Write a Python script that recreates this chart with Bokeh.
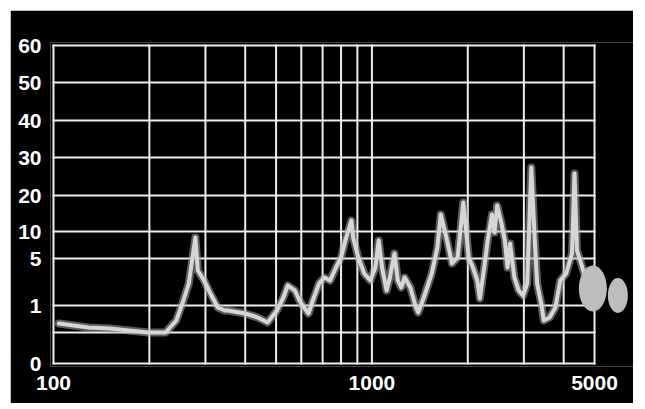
from bokeh.plotting import figure
from bokeh.models import Range1d, FixedTicker
from bokeh.embed import file_html
from bokeh.resources import INLINE

# Frequency graticule (Hz, log) and its printed labels
freq_ticks = [100, 200, 300, 400, 500, 600, 700, 800, 900, 1000, 2000, 3000, 4000, 5000]
freq_labels = {100: "100", 1000: "1000", 5000: "5000"}

# Vertical graticule: height of each ruled line (graticule units) and its label
level_ticks = [0, 31, 58, 105, 132, 168, 206, 243, 281, 318]
level_labels = ["0", "", "1", "5", "10", "20", "30", "40", "50", "60"]

# Spectrum trace (frequency in Hz, height in graticule units)
trace_freq = [104, 129, 150, 173, 198, 225, 243, 254, 266, 279,
              284, 297, 311, 328, 345, 353, 400, 438, 470, 503,
              527, 544, 573, 592, 612, 632, 652, 682, 709, 739,
              771, 800, 825, 862, 873, 906, 946, 988, 1025, 1050,
              1076, 1112, 1139, 1177, 1206, 1236, 1267, 1320, 1375, 1397,
              1455, 1541, 1605, 1645, 1713, 1784, 1858, 1936, 2013, 2076,
              2142, 2182, 2252, 2309, 2382, 2427, 2473, 2551, 2615, 2665,
              2715, 2801, 2890, 2982, 3073, 3166, 3243, 3302, 3402, 3464,
              3613, 3767, 3904, 4073, 4249, 4326, 4404, 4540, 4736, 4940]
trace_level = [40, 36, 35, 33, 31, 31, 43, 60, 80, 126,
               93, 83, 70, 56, 53, 53, 50, 46, 41, 53,
               66, 78, 73, 63, 56, 50, 63, 80, 86, 83,
               96, 106, 123, 143, 126, 106, 90, 83, 96, 123,
               96, 73, 86, 110, 83, 76, 86, 76, 56, 51,
               66, 90, 116, 149, 126, 100, 106, 161, 106, 96,
               83, 65, 96, 123, 149, 131, 158, 140, 123, 96,
               120, 86, 73, 68, 80, 196, 126, 80, 60, 43,
               46, 56, 83, 90, 110, 190, 113, 100, 80, 66]

# Overloaded spots past the end of the sweep
blob_freq = [4940, 5920]
blob_level = [75, 68]

p = figure(width=623, height=393, x_axis_type="log",
           x_range=Range1d(97.86, 6628), y_range=Range1d(-3, 321),
           output_backend="svg", toolbar_location=None,
           background_fill_color="black", border_fill_color="black",
           min_border_left=40, min_border_right=0,
           min_border_top=32, min_border_bottom=37,
           margin=(10, 0, 0, 10))

p.xgrid.visible = False
p.ygrid.visible = False
p.outline_line_color = None

# ruled graticule
nf = len(freq_ticks)
nl = len(level_ticks)
grid_col = "#eeeeee"
p.segment(x0=freq_ticks, y0=[level_ticks[0]] * nf, x1=freq_ticks, y1=[level_ticks[-1]] * nf,
          line_color=grid_col, line_width=2, line_cap="square")
p.segment(x0=[freq_ticks[0]] * nl, y0=level_ticks, x1=[freq_ticks[-1]] * nl, y1=level_ticks,
          line_color=grid_col, line_width=2, line_cap="square")

# trace
p.line(trace_freq, trace_level, line_color="#a8a8a8", line_width=8, line_alpha=0.55,
       line_join="round", line_cap="round")
p.line(trace_freq, trace_level, line_color="#d6d6d6", line_width=4,
       line_join="round", line_cap="round")
p.ellipse(x=blob_freq, y=blob_level, width=[28, 20], height=[46, 35],
          width_units="screen", height_units="screen",
          fill_color="#bdbdbd", line_color=None)

for ax in (p.xaxis, p.yaxis):
    ax.axis_line_color = None
    ax.major_tick_line_color = None
    ax.minor_tick_line_color = None
    ax.major_label_text_color = "white"
    ax.major_label_text_font = "Liberation Sans"
    ax.major_label_text_font_style = "bold"
    ax.major_label_text_font_size = "21px"

p.xaxis.ticker = FixedTicker(ticks=freq_ticks)
p.xaxis.major_label_overrides = {f: freq_labels.get(f, "") for f in freq_ticks}
p.xaxis.major_label_standoff = 3

p.yaxis.ticker = FixedTicker(ticks=level_ticks)
p.yaxis.major_label_overrides = dict(zip(level_ticks, level_labels))
p.yaxis.major_label_standoff = 3

open("out.html", "w").write(file_html(p, INLINE))
